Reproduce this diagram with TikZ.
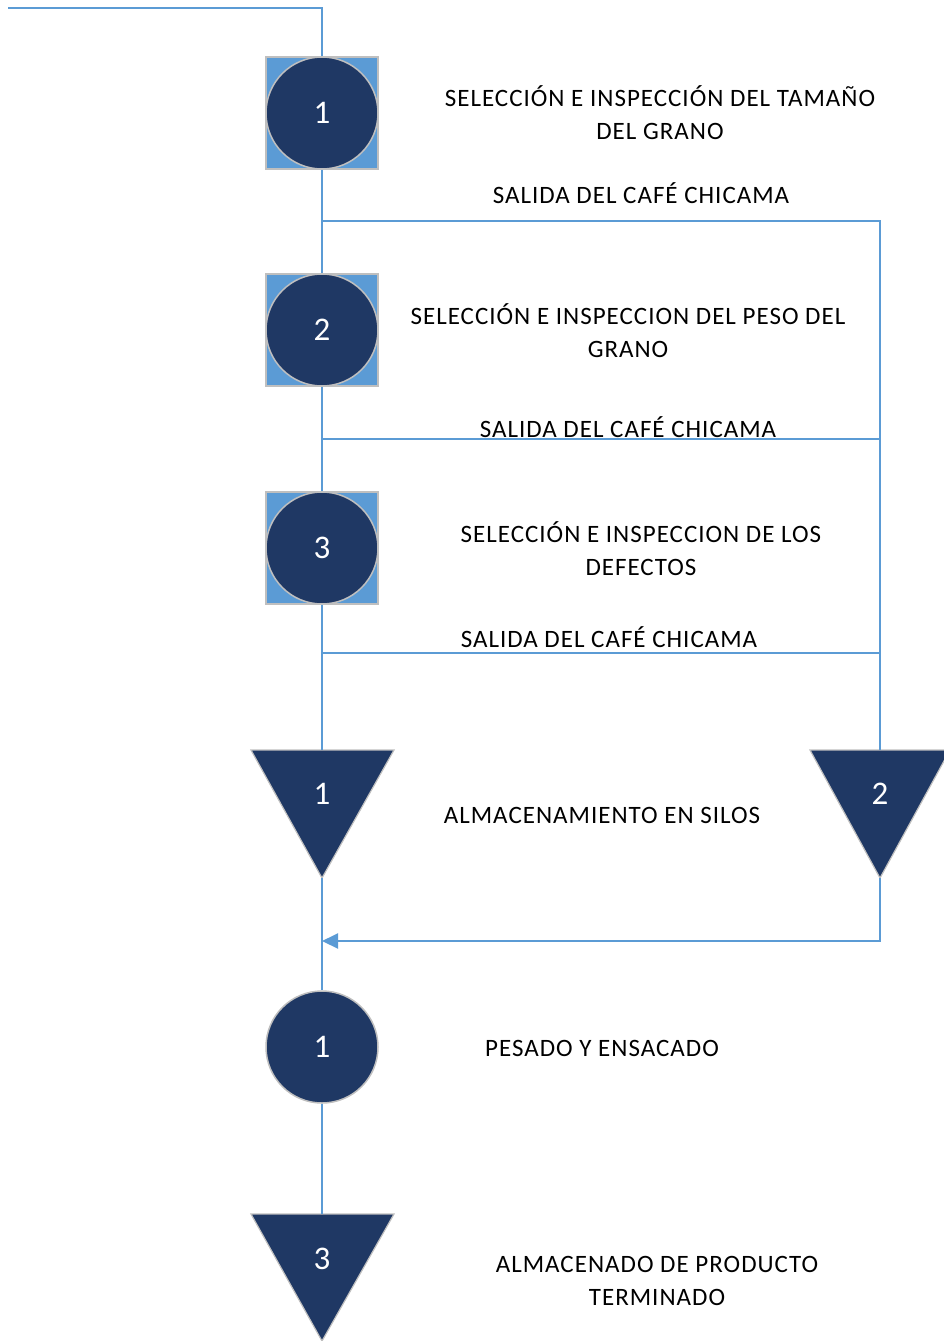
\documentclass[tikz,border=0pt]{standalone}
\usepackage{fontspec}
\setmainfont{Carlito}
\usetikzlibrary{arrows.meta}
\definecolor{navy}{HTML}{1F3864}
\definecolor{lblue}{HTML}{5B9BD5}
\definecolor{edgegray}{HTML}{BFBFBF}
\newfontfamily\lblfont[LetterSpace=4]{Carlito}
\tikzset{
  sq/.style={draw=edgegray,line width=1.5pt,fill=lblue,minimum size=112pt,inner sep=0pt},
  op/.style={circle,draw=edgegray,line width=1.5pt,fill=navy,minimum size=112pt,inner sep=0pt,text=white,font=\fontsize{33}{36}\selectfont},
  tri/.style={draw=edgegray,line width=1.2pt,fill=navy},
  num/.style={text=white,font=\fontsize{33}{36}\selectfont,inner sep=0pt},
  lbl/.style={align=center,font=\lblfont\fontsize{25}{33}\selectfont,inner sep=0pt},
  conn/.style={draw=lblue,line width=2pt},
}
\begin{document}
\begin{tikzpicture}[x=1pt,y=-1pt]
\useasboundingbox (0,0) rectangle (944,1341);
% inspections
\node[sq] (s1) at (322,113) {};
\node[op] (c1) at (322,113) {1};
\node[sq] (s2) at (322,330) {};
\node[op] (c2) at (322,330) {2};
\node[sq] (s3) at (322,548) {};
\node[op] (c3) at (322,548) {3};
% storages
\coordinate (t1top) at (322,750);
\coordinate (t1bot) at (322,878);
\draw[tri] (251,750) -- (394,750) -- (t1bot) -- cycle;
\node[num] (n1) at (322,794) {1};
\coordinate (t2top) at (880,750);
\coordinate (t2bot) at (880,878);
\draw[tri] (810,750) -- (950,750) -- (t2bot) -- cycle;
\node[num] (n2) at (880,794) {2};
% operation
\node[op] (c4) at (322,1047) {1};
\coordinate (t3top) at (322,1214);
\draw[tri] (251,1214) -- (394,1214) -- (322,1341) -- cycle;
\node[num] (n3) at (322,1259) {3};
% connectors
\coordinate (start) at (8,8);
\coordinate (corner) at (322,8);
\draw[conn] (start) -- (corner) -- (s1.north);
\draw[conn] (s1.south) -- (s2.north);
\draw[conn] (s2.south) -- (s3.north);
\draw[conn] (s3.south) -- (t1top);
\coordinate (b1) at (322,221);
\coordinate (b1r) at (880,221);
\coordinate (b2) at (322,439);
\coordinate (b2r) at (880,439);
\coordinate (b3) at (322,653);
\coordinate (b3r) at (880,653);
\draw[conn] (b1) -- (b1r) -- (t2top);
\draw[conn] (b2) -- (b2r);
\draw[conn] (b3) -- (b3r);
\draw[conn] (t1bot) -- (c4.north);
\coordinate (m1) at (880,941);
\coordinate (m2) at (322,941);
\draw[conn,-{Triangle[length=16pt,width=15pt]}] (t2bot) -- (m1) -- (m2);
\draw[conn] (c4.south) -- (t3top);
% labels
\node[lbl] (l1) at (660,113) {SELECCIÓN E INSPECCIÓN DEL TAMAÑO\\DEL GRANO};
\node[lbl] (o1) at (641,193) {SALIDA DEL CAFÉ CHICAMA};
\node[lbl] (l2) at (628,331) {SELECCIÓN E INSPECCION DEL PESO DEL\\GRANO};
\node[lbl] (o2) at (628,427) {SALIDA DEL CAFÉ CHICAMA};
\node[lbl] (l3) at (641,549) {SELECCIÓN E INSPECCION DE LOS\\DEFECTOS};
\node[lbl] (o3) at (609,637) {SALIDA DEL CAFÉ CHICAMA};
\node[lbl] (l4) at (602,815) {ALMACENAMIENTO EN SILOS};
\node[lbl] (l5) at (602,1048) {PESADO Y ENSACADO};
\node[lbl] (l6) at (657,1281) {ALMACENADO DE PRODUCTO\\TERMINADO};
\end{tikzpicture}
\end{document}
